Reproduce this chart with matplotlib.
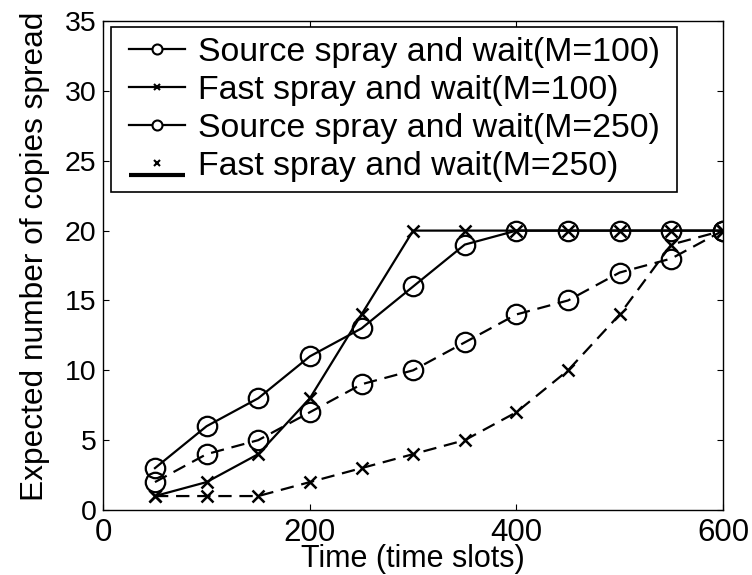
import numpy as np
import matplotlib.pyplot as plt
from matplotlib.legend_handler import HandlerBase
from matplotlib.lines import Line2D

plt.rcParams['font.family'] = ['Liberation Sans', 'DejaVu Sans']

# data
time = [50, 100, 150, 200, 250, 300, 350, 400, 450, 500, 550, 600]
source_100 = [3, 6, 8, 11, 13, 16, 19, 20, 20, 20, 20, 20]
fast_100 = [1, 2, 4, 8, 14, 20, 20, 20, 20, 20, 20, 20]
source_250 = [2, 4, 5, 7, 9, 10, 12, 14, 15, 17, 18, 20]
fast_250 = [1, 1, 1, 2, 3, 4, 5, 7, 10, 14, 19, 20]

labels = ['Source spray and wait(M=100)', 'Fast spray and wait(M=100)',
          'Source spray and wait(M=250)', 'Fast spray and wait(M=250)']


class KeyHandler(HandlerBase):
    # solid line with a small marker in the middle; odd=True gives the
    # marker alone with a thick bar below it, like the original legend
    def __init__(self, marker, ms, odd=False, lpad=5.8):
        super().__init__()
        self.marker, self.ms, self.odd, self.lpad = marker, ms, odd, lpad

    def create_artists(self, legend, orig_handle, xdescent, ydescent,
                       width, height, fontsize, trans):
        x0 = -xdescent + self.lpad
        x1 = -xdescent + width
        y = (height - ydescent) / 2
        arts = []
        if self.odd:
            arts.append(Line2D([x0, x1], [y - 8.5, y - 8.5], color='black',
                               lw=3.0, solid_capstyle='butt', transform=trans))
        else:
            arts.append(Line2D([x0, x1], [y, y], color='black', lw=1.6,
                               transform=trans))
        arts.append(Line2D([(x0 + x1) / 2], [y], ls='none', marker=self.marker,
                           ms=self.ms, mfc='white', mec='black', mew=1.5,
                           transform=trans))
        return arts


fig = plt.figure(figsize=(7.52, 5.75), dpi=100)
ax = fig.add_axes([0.1374, 0.113, 0.824, 0.8504])

kw = dict(color='black', lw=1.6, mfc='none', mec='black')
dash = (0, (6, 3.5))
l1, = ax.plot(time, source_100, marker='o', ms=14, mew=1.6, **kw)
l2, = ax.plot(time, fast_100, marker='x', ms=9, mew=1.8, **kw)
l3, = ax.plot(time, source_250, marker='o', ms=14, mew=1.6, ls=dash, **kw)
l4, = ax.plot(time, fast_250, marker='x', ms=9, mew=1.8, ls=dash, **kw)

leg = ax.legend([l1, l2, l3, l4], labels, loc='upper left',
                bbox_to_anchor=(0.0124, 0, 0.913, 0.9877), mode='expand',
                borderaxespad=0, fontsize=24.4,
                handlelength=1.89, handletextpad=0.38, labelspacing=0.2,
                borderpad=0.3,
                fancybox=False, framealpha=1, edgecolor='black',
                handler_map={l1: KeyHandler('o', 7.2),
                             l2: KeyHandler('x', 5),
                             l3: KeyHandler('o', 7.2),
                             l4: KeyHandler('x', 5, odd=True)})
leg.get_frame().set_linewidth(1.2)

ax.set_xlim(0, 600)
ax.set_ylim(0, 35)
ax.set_xticks([0, 200, 400, 600])
ax.set_yticks(np.arange(0, 36, 5))
ax.tick_params(direction='in', top=True, right=True, length=4.5, width=0.8)
ax.tick_params(axis='x', labelsize=22.5, pad=6)
ax.tick_params(axis='y', labelsize=20.5, pad=5)
ax.set_xlabel('Time (time slots)', fontsize=22, labelpad=-3)
ax.set_ylabel('Expected number of copies spread', fontsize=22.8)
ax.yaxis.set_label_coords(-0.086, 0.519)
for s in ax.spines.values():
    s.set_linewidth(1.0)

fig.savefig('out.png', dpi=100)
